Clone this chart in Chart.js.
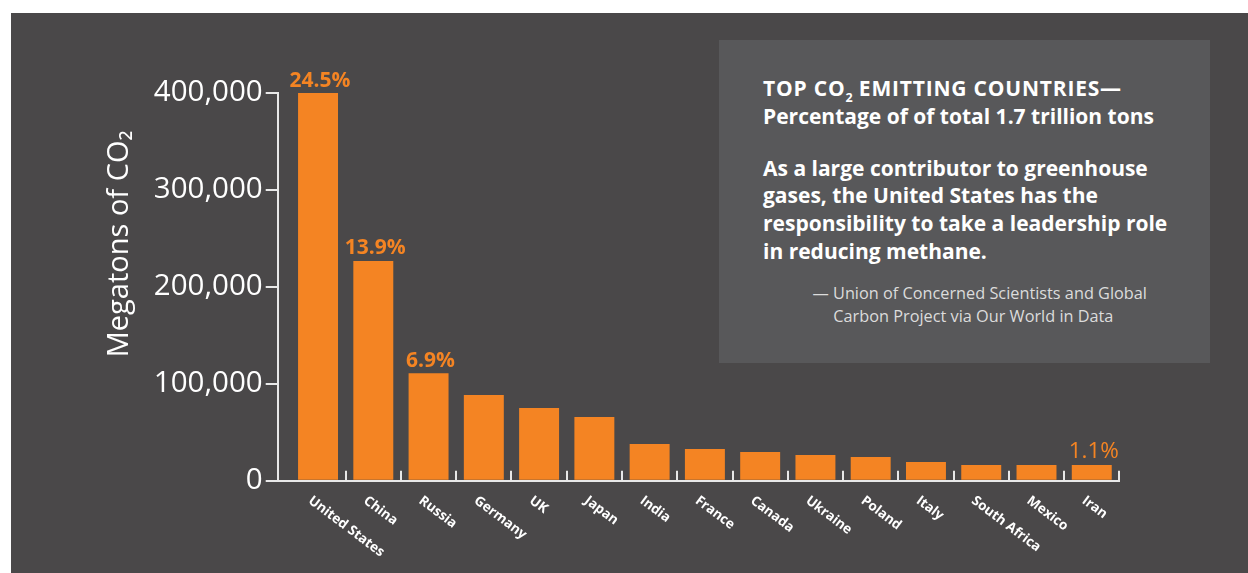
<!DOCTYPE html>
<html>
<head>
<meta charset="utf-8">
<script src="https://cdn.jsdelivr.net/npm/chart.js@4.4.1/dist/chart.umd.min.js"></script>
<style>
  html, body { margin:0; padding:0; background:#ffffff; width:1248px; height:573px; overflow:hidden; font-family:"Open Sans", sans-serif; }
  #bg { position:absolute; left:11px; top:13px; width:1237px; height:560px; background:#4a4849; }
  #c { position:absolute; left:11px; top:13px; }
  #box { position:absolute; left:719px; top:40px; width:491px; height:323px; background:#58585a; color:#ffffff; }
  #box .t { position:absolute; left:44px; top:34px; font-weight:700; font-size:21px; line-height:28px; white-space:nowrap; }
  #box .t .caps { letter-spacing:0.8px; }
  #box .t .sub { font-size:12.5px; vertical-align:-6px; line-height:0; letter-spacing:0; }
  #box .p { position:absolute; left:44px; top:114.5px; font-weight:700; font-size:21px; line-height:27.8px; white-space:nowrap; }
  #box .s { position:absolute; font-weight:400; font-size:16.3px; line-height:23.4px; color:#dcdcdc; white-space:nowrap; }
</style>
</head>
<body>
<div id="bg"></div>
<canvas id="c" width="1237" height="560"></canvas>
<div id="box">
  <div class="t"><span class="caps">TOP CO<span class="sub">2</span> EMITTING COUNTRIES—</span><br>Percentage of of total 1.7 trillion tons</div>
  <div class="p">As a large contributor to greenhouse<br>gases, the United States has the<br>responsibility to take a leadership role<br>in reducing methane.</div>
  <div class="s" style="top:241.5px; left:93.5px;">— Union of Concerned Scientists and Global</div>
  <div class="s" style="top:264.9px; left:114.3px;">Carbon Project via Our World in Data</div>
</div>
<script>
// ---- data ----
const categories = ['United States', 'China', 'Russia', 'Germany', 'UK', 'Japan', 'India', 'France', 'Canada', 'Ukraine', 'Poland', 'Italy', 'South Africa', 'Mexico', 'Iran'];
const emissions = [400000, 226700, 110800, 88400, 75000, 65700, 37900, 32700, 29600, 26500, 24500, 19300, 16200, 16200, 16200];
const shareLabels = ['24.5%', '13.9%', '6.9%', '', '', '', '', '', '', '', '', '', '', '', '1.1%'];
const yTickValues = [0, 100000, 200000, 300000, 400000];
const yTitle = 'Megatons of CO\u2082';

// ---- styles ----
const ORANGE = '#f48423';
const AXIS = '#e8e8e8';
const shareFonts = ['700 21px', '700 21px', '700 21px', '', '', '', '', '', '', '', '', '', '', '', '400 22.5px'];

const annotate = {
  id: 'annotate',
  afterDatasetsDraw(chart) {
    const ctx = chart.ctx;
    const meta = chart.getDatasetMeta(0);
    const xs = chart.scales.x;
    const outer = chart.scales.yOuter;
    ctx.save();
    // percentage labels
    ctx.fillStyle = ORANGE;
    ctx.textAlign = 'center';
    ctx.textBaseline = 'alphabetic';
    shareLabels.forEach((lab, i) => {
      if (!lab) return;
      const bar = meta.data[i];
      ctx.font = shareFonts[i] + ' "Open Sans"';
      ctx.fillText(lab, bar.x + 2, bar.y - 6.5);
    });
    // rotated category labels
    ctx.fillStyle = '#ffffff';
    ctx.font = '700 13.5px "Open Sans"';
    ctx.textAlign = 'left';
    categories.forEach((lab, i) => {
      const x = xs.getPixelForValue(i) - 10.5;
      const y = xs.top + 21.5;
      ctx.save();
      ctx.translate(x, y);
      ctx.rotate(37 * Math.PI / 180);
      ctx.fillText(lab, 0, 0);
      ctx.restore();
    });
    // y axis title
    ctx.save();
    ctx.fillStyle = '#ffffff';
    ctx.font = '400 29px "Open Sans"';
    ctx.textAlign = 'center';
    ctx.textBaseline = 'alphabetic';
    ctx.translate(outer.left + 117, (chart.chartArea.top + chart.chartArea.bottom) / 2 - 43);
    ctx.rotate(-Math.PI / 2);
    ctx.fillText(yTitle, 0, 0);
    ctx.restore();
    ctx.restore();
  }
};

new Chart(document.getElementById('c'), {
  type: 'bar',
  data: {
    labels: categories,
    datasets: [{
      data: emissions,
      backgroundColor: ORANGE,
      borderWidth: 0,
      categoryPercentage: 1,
      barPercentage: 0.723,
      yAxisID: 'y'
    }]
  },
  options: {
    responsive: false,
    animation: false,
    events: [],
    layout: { padding: { left: 0, top: 80, right: 128.6, bottom: 0 } },
    plugins: { legend: { display: false }, tooltip: { enabled: false } },
    scales: {
      x: {
        type: 'category',
        offset: true,
        grid: {
          offset: true,
          drawOnChartArea: false,
          drawTicks: true,
          tickLength: -10,
          lineWidth: 2,
          color: (c) => (c.index === 0 ? 'rgba(0,0,0,0)' : AXIS)
        },
        border: { display: true, color: AXIS, width: 2 },
        ticks: { display: false },
        afterFit: (s) => { s.height = 92.3; }
      },
      y: {
        type: 'linear',
        position: 'left',
        weight: 0,
        min: 0,
        max: 400000,
        afterBuildTicks: (s) => { s.ticks = yTickValues.map(v => ({ value: v })); },
        ticks: { display: false },
        border: { display: false },
        grid: {
          drawOnChartArea: false,
          drawTicks: true,
          tickLength: 12.7,
          lineWidth: 2,
          color: (c) => (c.tick && c.tick.value === 0 ? AXIS : 'rgba(0,0,0,0)')
        },
        afterFit: (s) => { s.width = 12.7; }
      },
      yOuter: {
        type: 'linear',
        position: 'left',
        weight: 10,
        min: 0,
        max: 400000,
        afterBuildTicks: (s) => { s.ticks = yTickValues.map(v => ({ value: v })); },
        ticks: {
          color: '#ffffff',
          padding: 3,
          font: { family: 'Open Sans', size: 29.5, weight: '400' },
          callback: (v) => Number(v).toLocaleString('en-US')
        },
        border: { display: true, color: AXIS, width: 2 },
        grid: {
          drawOnChartArea: false,
          drawTicks: true,
          tickLength: 12,
          lineWidth: 2,
          color: AXIS
        },
        afterFit: (s) => { s.width = 266.7; }
      }
    }
  },
  plugins: [annotate]
});
</script>
</body>
</html>
